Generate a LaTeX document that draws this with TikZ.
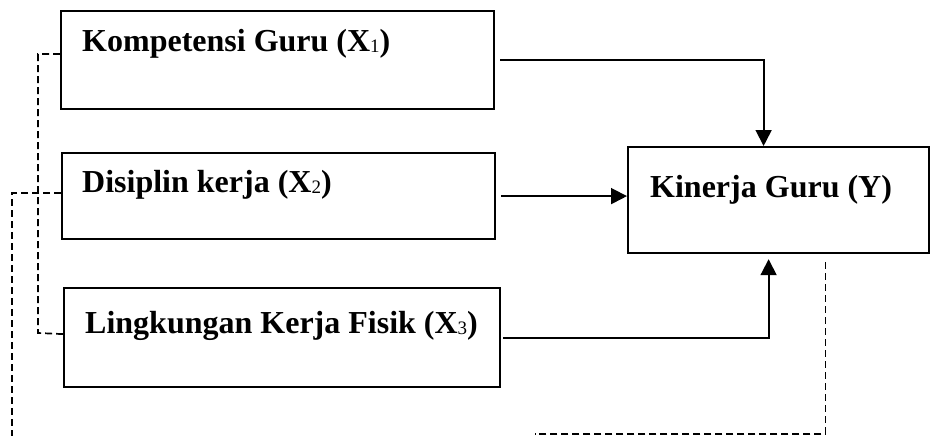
\documentclass[tikz,border=0pt]{standalone}
\usepackage{fontspec}
\setmainfont{Liberation Serif}
\usepackage{tikz}
\usetikzlibrary{arrows.meta}
\newcommand{\Huruf}{\fontsize{32}{38}\selectfont\bfseries}
\newcommand{\Indeks}[1]{\raisebox{-1pt}{\fontsize{19}{22}\selectfont\mdseries #1}}
\tikzset{Kotak/.style={
    rectangle,
    inner sep=0pt,
    anchor=north west,
    draw=black,
    line width=2.2pt,
    },
    Teks/.style={
    inner sep=0pt,
    anchor=base west,
    font=\Huruf,
    }
}

\begin{document}
\begin{tikzpicture}[x=1pt, y=-1pt,
    panah/.style={line width=1.8pt, -{Triangle[length=16pt,width=16pt]}},
    putus/.style={line width=1.7pt, dash pattern=on 7pt off 4pt},
]
\useasboundingbox (0,0) rectangle (932,436);
% kotak variabel
\node [Kotak, minimum width=433pt, minimum height=98pt] (kompetensi) at (60,10) {};
\node [Kotak, minimum width=433pt, minimum height=86pt] (disiplin) at (61,152) {};
\node [Kotak, minimum width=436pt, minimum height=99pt] (lingkungan) at (63,287) {};
\node [Kotak, minimum width=301pt, minimum height=106pt] (kinerja) at (627,146) {};
\node [Teks] (tkompetensi) at (82,52) {Kompetensi Guru (X\Indeks{1})};
\node [Teks] (tdisiplin) at (82,192) {Disiplin kerja (X\Indeks{2})};
\node [Teks] (tlingkungan) at (85,333) {Lingkungan Kerja Fisik (X\Indeks{3})};
\node [Teks] (tkinerja) at (650,197) {Kinerja Guru (Y)};
% panah
\draw [panah] ([xshift=5pt]kompetensi.east) -| ([xshift=-15pt]kinerja.north);
\draw [panah] ([xshift=5pt]disiplin.east) -- (disiplin.east -| kinerja.west);
\draw [panah] ([xshift=2pt]lingkungan.east) -| ([xshift=-10pt,yshift=-5pt]kinerja.south);
% garis putus-putus
\coordinate (bawahkiri) at (12,436);
\coordinate (bawahkanan) at (535,434);
\draw [putus] ([yshift=6pt]kompetensi.west) -| (38,333) -- ([yshift=3.5pt]lingkungan.west);
\draw [putus] ([yshift=3pt]disiplin.west) -| (bawahkiri);
\draw [putus] ([xshift=47pt,yshift=-8pt]kinerja.south) |- (bawahkanan);
\end{tikzpicture}
\end{document}
